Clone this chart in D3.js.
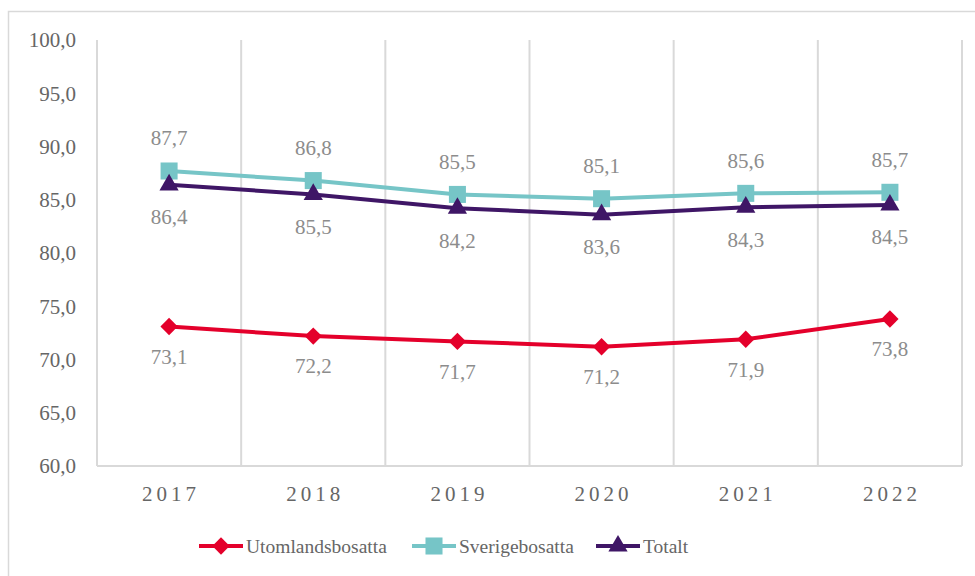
<!DOCTYPE html>
<html>
<head>
<meta charset="utf-8">
<script src="https://cdn.jsdelivr.net/npm/d3@7"></script>
<style>
  body { margin: 0; background: #fff; }
</style>
</head>
<body>
<div id="chart"></div>
<script>
const years = ["2017", "2018", "2019", "2020", "2021", "2022"];
const utomlands = [73.1, 72.2, 71.7, 71.2, 71.9, 73.8];
const sverige = [87.7, 86.8, 85.5, 85.1, 85.6, 85.7];
const totalt = [86.4, 85.5, 84.2, 83.6, 84.3, 84.5];
const yTicks = [60, 65, 70, 75, 80, 85, 90, 95, 100];

const W = 975, H = 576;
const plot = { left: 97, right: 962, top: 40, bottom: 466 };
const FONT = "'Liberation Serif', 'Times New Roman', serif";

const svg = d3.select("#chart").append("svg")
    .attr("width", W)
    .attr("height", H)
    .attr("font-family", FONT);

svg.append("rect").attr("width", W).attr("height", H).attr("fill", "#fff");

// outer chart border
svg.append("rect")
    .attr("x", 8.5).attr("y", 11.5)
    .attr("width", W).attr("height", H)
    .attr("fill", "none")
    .attr("stroke", "#d9d9d9")
    .attr("stroke-width", 1.5);

const x = d3.scaleBand()
    .domain(years)
    .range([plot.left, plot.right]);

const y = d3.scaleLinear()
    .domain([60, 100])
    .range([plot.bottom, plot.top]);

const fmt = v => d3.format(".1f")(v).replace(".", ",");

// vertical gridlines at category boundaries
const bounds = years.map(d => x(d)).concat([plot.right]);
svg.append("g").selectAll("line")
    .data(bounds)
    .enter()
    .append("line")
    .attr("x1", d => d).attr("x2", d => d)
    .attr("y1", plot.top).attr("y2", plot.bottom)
    .attr("stroke", "#d9d9d9")
    .attr("stroke-width", 2);

// bottom axis line
svg.append("line")
    .attr("x1", plot.left).attr("x2", plot.right)
    .attr("y1", y(60)).attr("y2", y(60))
    .attr("stroke", "#d9d9d9")
    .attr("stroke-width", 2);

// y tick labels
svg.append("g").selectAll("text")
    .data(yTicks)
    .enter()
    .append("text")
    .attr("x", 76)
    .attr("y", d => y(d))
    .attr("dy", "0.35em")
    .attr("text-anchor", "end")
    .attr("font-size", 21)
    .attr("fill", "#666")
    .text(d => fmt(d));

// x labels
svg.append("g").selectAll("text")
    .data(years)
    .enter()
    .append("text")
    .attr("x", d => x(d) + x.bandwidth() / 2 + 2)
    .attr("y", 501)
    .attr("text-anchor", "middle")
    .attr("font-size", 21)
    .attr("letter-spacing", 4)
    .attr("fill", "#666")
    .text(d => d);

const series = [
    { name: "Utomlandsbosatta", values: utomlands, color: "#e4002b", symbol: d3.symbolSquare, size: 150, rotate: 45, labelDy: 30 },
    { name: "Sverigebosatta", values: sverige, color: "#76c5c7", symbol: d3.symbolSquare, size: 290, rotate: 0, labelDy: -33 },
    { name: "Totalt", values: totalt, color: "#3f1666", symbol: d3.symbolTriangle, size: 160, rotate: 0, labelDy: 32 }
];

const cx = d => x(d) + x.bandwidth() / 2;

const line = d3.line()
    .x((d, i) => cx(years[i]))
    .y(d => y(d));

series.forEach(s => {
    const g = svg.append("g");
    g.append("path")
        .datum(s.values)
        .attr("d", line)
        .attr("fill", "none")
        .attr("stroke", s.color)
        .attr("stroke-width", 4);

    g.selectAll("path.marker")
        .data(s.values)
        .enter()
        .append("path")
        .attr("class", "marker")
        .attr("transform", (d, i) => `translate(${cx(years[i])},${y(d)}) rotate(${s.rotate})`)
        .attr("d", d3.symbol().type(s.symbol).size(s.size))
        .attr("fill", s.color);

    g.selectAll("text")
        .data(s.values)
        .enter()
        .append("text")
        .attr("x", (d, i) => cx(years[i]))
        .attr("y", d => y(d) + s.labelDy)
        .attr("dy", "0.35em")
        .attr("text-anchor", "middle")
        .attr("font-size", 21)
        .attr("fill", "#8c8c8c")
        .text(d => fmt(d));
});

// legend
const legendX = [199, 412, 596];
series.forEach((s, i) => {
    const lg = svg.append("g")
        .attr("transform", `translate(${legendX[i]}, 546)`);
    lg.append("line")
        .attr("x1", 0).attr("x2", 44)
        .attr("stroke", s.color)
        .attr("stroke-width", 4);
    lg.append("path")
        .attr("transform", `translate(22,0) rotate(${s.rotate})`)
        .attr("d", d3.symbol().type(s.symbol).size(s.size))
        .attr("fill", s.color);
    lg.append("text")
        .attr("x", 47)
        .attr("dy", "0.35em")
        .attr("font-size", 19.5)
        .attr("fill", "#666")
        .text(s.name);
});
</script>
</body>
</html>
